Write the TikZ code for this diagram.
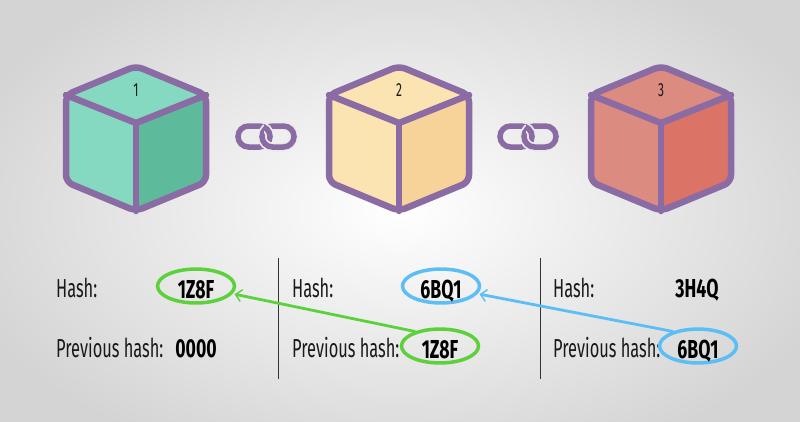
\documentclass[tikz,border=0pt]{standalone}
\usepackage{fontspec}
\newfontfamily\lab[FakeStretch=0.63]{Fira Sans}
\newfontfamily\valf[FakeStretch=0.68]{Fira Sans}
\usetikzlibrary{shapes.geometric,arrows.meta}
\definecolor{bgout}{HTML}{D4D4D4}
\definecolor{purp}{HTML}{8B6BA3}
\definecolor{cAt}{HTML}{84D9C0}
\definecolor{cAr}{HTML}{5DBB9C}
\definecolor{cBt}{HTML}{FCE4B2}
\definecolor{cBr}{HTML}{F8D399}
\definecolor{cCt}{HTML}{DC8B80}
\definecolor{cCr}{HTML}{DB7467}
\definecolor{gmark}{HTML}{5CD13C}
\definecolor{bmark}{HTML}{5DBDF5}
\definecolor{halo}{HTML}{EBEBEB}
\tikzset{
  cubeline/.style={draw=purp, line width=6.5pt, line join=round, line cap=round},
  linkline/.style={draw=purp, line width=5.5pt, rounded corners=10.5pt},
  linkhalo/.style={draw=halo, line width=9pt, rounded corners=10.5pt},
  numlab/.style={font=\lab\fontsize{19}{19}\selectfont, inner sep=0pt, text=black!90},
  lbl/.style={font=\lab\fontsize{26}{26}\selectfont, anchor=base west, inner sep=0pt, text=black!90},
  val/.style={font=\valf\bfseries\fontsize{26}{26}\selectfont, inner sep=0pt, text=black, text depth=0pt, text height=24pt},
  ring/.style={ellipse, draw=#1, line width=3.5pt, minimum width=77pt, minimum height=31pt},
  mark/.style={draw=#1, line width=2.8pt, line cap=round, shorten >=2pt,
    -{Straight Barb[length=6pt, width=12pt, line width=1.4pt]}},
  sep/.style={draw=black!80, line width=0.8pt}
}
\begin{document}
\begin{tikzpicture}[x=1pt, y=-1pt]
\useasboundingbox (0,0) rectangle (800,421);
\shade[inner color=white, outer color=bgout] (-60,-60) rectangle (860,481);

% cubes
\foreach \cx/\ct/\cr/\n in {136/cAt/cAr/1, 399/cBt/cBr/2, 661/cCt/cCr/3} {
  \begin{scope}
    \clip[rounded corners=7pt] (\cx,66) -- (\cx-70,95) -- (\cx-70,182) -- (\cx,211) -- (\cx+70,182) -- (\cx+70,95) -- cycle;
    \fill[\ct] (\cx-75,60) rectangle (\cx+75,215);
    \fill[\cr] (\cx,123) -- (\cx,215) -- (\cx+75,215) -- (\cx+75,90) -- cycle;
  \end{scope}
  \draw[cubeline, rounded corners=7pt] (\cx,66) -- (\cx-70,95) -- (\cx-70,182) -- (\cx,211) -- (\cx+70,182) -- (\cx+70,95) -- cycle;
  \draw[cubeline] (\cx-70,95) -- (\cx,123) -- (\cx+70,95);
  \draw[cubeline] (\cx,123) -- (\cx,211);
  \node[numlab] (num\n) at (\cx,90) {\n};
}

% chain links
\foreach \lx in {266,528} {
  \draw[linkline] (\lx-28,126) rectangle (\lx+4,147);
  \draw[linkhalo] (\lx-4,126) rectangle (\lx+28,147);
  \draw[linkline] (\lx-4,126) rectangle (\lx+28,147);
  \begin{scope}
    \clip (\lx-2,118) rectangle (\lx+12,135);
    \draw[linkhalo] (\lx-28,126) rectangle (\lx+4,147);
    \draw[linkline] (\lx-28,126) rectangle (\lx+4,147);
  \end{scope}
}

% separators
\draw[sep] (278,258) -- (278,379);
\draw[sep] (540,258) -- (540,379);

% column 1
\node[lbl] (hl1) at (56,297) {Hash:};
\node[lbl] (pl1) at (56,357) {Previous hash:};
\node[val, ring=gmark] (h1) at (196,286) {1Z8F};
\node[val] (p1) at (196,345) {0000};

% column 2
\node[lbl] (hl2) at (292,297) {Hash:};
\node[lbl] (pl2) at (292,357) {Previous hash:};
\node[val, ring=bmark] (h2) at (441,286) {6BQ1};
\node[val, ring=gmark] (p2) at (440,346) {1Z8F};

% column 3
\node[lbl] (hl3) at (553,297) {Hash:};
\node[lbl] (pl3) at (553,357) {Previous hash:};
\node[val] (h3) at (697,285) {3H4Q};
\node[val, ring=bmark] (p3) at (698,346) {6BQ1};

% arrows
\draw[mark=gmark] (p2.150) -- (h1.-12);
\draw[mark=bmark] (p3.150) -- (h2.-12);
\end{tikzpicture}
\end{document}
